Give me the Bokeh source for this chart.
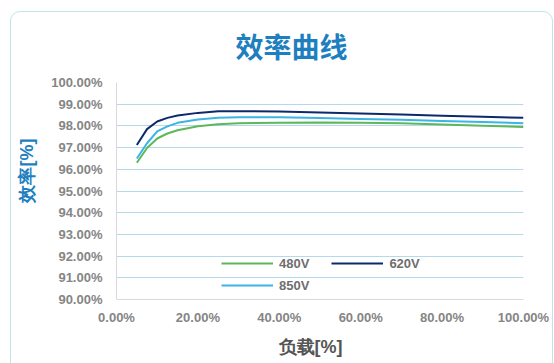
from bokeh.embed import file_html
from bokeh.resources import INLINE
from bokeh.plotting import figure
from bokeh.models import (Legend, LegendItem, Title, InlineStyleSheet,
                          PrintfTickFormatter, FixedTicker, Range1d)

# Load points [%] and efficiency [%] for each DC input voltage
load = [5, 7.5, 10, 12.5, 15, 20, 25, 30, 40, 50, 60, 70, 80, 90, 100]
eff_480v = [96.30, 96.98, 97.42, 97.65, 97.80, 97.98, 98.08, 98.12, 98.15,
            98.16, 98.15, 98.12, 98.07, 98.01, 97.95]
eff_620v = [97.12, 97.85, 98.20, 98.37, 98.48, 98.60, 98.67, 98.68, 98.66,
            98.62, 98.57, 98.52, 98.47, 98.42, 98.37]
eff_850v = [96.50, 97.20, 97.75, 97.98, 98.14, 98.29, 98.37, 98.40, 98.40,
            98.36, 98.32, 98.28, 98.23, 98.18, 98.12]

x_ticks = [0, 20, 40, 60, 80, 100]
y_ticks = [90, 91, 92, 93, 94, 95, 96, 97, 98, 99, 100]

title_text = "效率曲线"
x_title = "负载[%]"
y_title = "效率[%]"

# rounded card outline drawn over the canvas
card_css = InlineStyleSheet(css="""
:host { position: relative; overflow: hidden; }
:host::after {
  content: "";
  position: absolute;
  left: 10px; top: 11px; width: 543px; height: 420px;
  box-sizing: border-box;
  border: 1px solid #bfe4ec;
  border-radius: 10px;
  pointer-events: none;
  z-index: 100;
}
""")

p = figure(width=554, height=363, output_backend="svg", toolbar_location=None,
           x_range=Range1d(0, 100), y_range=Range1d(90, 100),
           min_border_left=116, min_border_right=31,
           min_border_top=82, min_border_bottom=63,
           stylesheets=[card_css])
p.border_fill_color = "#ffffff"
p.background_fill_color = "#ffffff"
p.outline_line_color = None

# axes
for ax in (p.xaxis, p.yaxis):
    ax.axis_line_color = "#d9d9d9"
    ax.axis_line_width = 1
    ax.major_tick_line_color = None
    ax.minor_tick_line_color = None
    ax.major_tick_out = 0
    ax.major_tick_in = 0
    ax.major_label_text_font = "Liberation Sans"
    ax.major_label_text_font_size = "13px"
    ax.major_label_text_font_style = "bold"
    ax.major_label_text_color = "#858585"
    ax.formatter = PrintfTickFormatter(format="%.2f%%")

p.xaxis.ticker = FixedTicker(ticks=x_ticks)
p.yaxis.ticker = FixedTicker(ticks=y_ticks)
p.xaxis.major_label_standoff = 10
p.yaxis.major_label_standoff = 14

p.xgrid.grid_line_color = None
p.ygrid.grid_line_color = "#b5d8ea"
p.ygrid.grid_line_width = 1

# efficiency curves
r480 = p.line(load, eff_480v, line_color="#5cb85a", line_width=2)
r620 = p.line(load, eff_620v, line_color="#0c2a6a", line_width=2)
r850 = p.line(load, eff_850v, line_color="#3cb4e5", line_width=2)

legend_style = dict(orientation="horizontal", glyph_width=52, glyph_height=16,
                    label_height=16, label_standoff=6, spacing=22,
                    padding=0, margin=0, border_line_color=None,
                    background_fill_alpha=0,
                    label_text_font="Liberation Sans",
                    label_text_font_size="13px",
                    label_text_font_style="bold",
                    label_text_color="#6e6e6e")
leg1 = Legend(items=[LegendItem(label="480V", renderers=[r480]),
                     LegendItem(label="620V", renderers=[r620])],
              location=(105, 28), **legend_style)
leg2 = Legend(items=[LegendItem(label="850V", renderers=[r850])],
              location=(105, 6), **legend_style)
p.add_layout(leg1)
p.add_layout(leg2)

# chart title and axis titles
p.add_layout(Title(text=title_text, align="left", offset=119, standoff=34,
                   text_font="Noto Sans CJK SC", text_font_style="bold",
                   text_font_size="28px", text_color="#1e7fc0"), "above")
p.add_layout(Title(text=y_title, align="left", offset=97, standoff=23,
                   text_font="Liberation Sans", text_font_style="bold",
                   text_font_size="18px", text_color="#1e7fc0"), "left")
p.add_layout(Title(text=x_title, align="left", offset=162, standoff=14,
                   text_font="Liberation Sans", text_font_style="bold",
                   text_font_size="18px", text_color="#555555"), "below")

open("out.html", "w").write(file_html(p, INLINE))
